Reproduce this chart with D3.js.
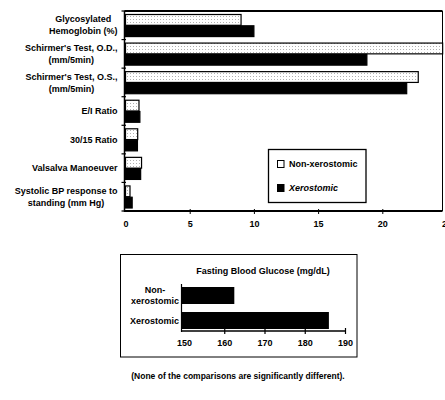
<!DOCTYPE html>
<html><head><meta charset="utf-8">
<script src="https://cdn.jsdelivr.net/npm/d3@7"></script>
<style>
html,body{margin:0;padding:0;background:#fff;}
svg{display:block;font-family:"Liberation Sans",Arial,Helvetica,sans-serif;}
</style></head>
<body>
<svg id="c" width="445" height="400"></svg>
<script>
// ---- data ----
const categories = [
  ["Glycosylated","Hemoglobin (%)"],
  ["Schirmer's Test, O.D.,","(mm/5min)"],
  ["Schirmer's Test, O.S.,","(mm/5min)"],
  ["E/I Ratio"],
  ["30/15 Ratio"],
  ["Valsalva Manoeuver"],
  ["Systolic BP response to","standing (mm Hg)"]
];
const nonXerostomic = [9.0, 24.7, 22.8, 1.05, 0.95, 1.25, 0.35];
const xerostomic    = [10.0, 18.8, 21.9, 1.12, 0.93, 1.18, 0.52];
const xTicks = [0, 5, 10, 15, 20, 25];
const seriesNames = ["Non-xerostomic", "Xerostomic"];

const glucoseGroups = [["Non-","xerostomic"], ["Xerostomic"]];
const glucoseValues = [162.5, 186.0];
const glucoseTicks = [150, 160, 170, 180, 190];
const glucoseTitle = "Fasting Blood Glucose (mg/dL)";
const footnote = "(None of the comparisons are significantly different).";

// ---- drawing ----
const svg = d3.select("#c");
const defs = svg.append("defs");
const pat = defs.append("pattern").attr("id","stip").attr("patternUnits","userSpaceOnUse")
  .attr("width",3).attr("height",3);
pat.append("rect").attr("width",3).attr("height",3).attr("fill","#fff");
pat.append("rect").attr("x",1).attr("y",1).attr("width",1).attr("height",1).attr("fill","#b0b0b0");

const x = d3.scaleLinear().domain([0,25]).range([125.5,446.5]);
const idx = d3.range(categories.length);
const y = d3.scaleBand().domain(idx).range([11,211]).padding(0);
const sub = d3.scaleBand().domain([0,1]).range([3, y.bandwidth()-3]).padding(0);

const main = svg.append("g");
// frame top/right
main.append("line").attr("x1",124.5).attr("x2",442.5).attr("y1",11).attr("y2",11)
  .attr("stroke","#000").attr("stroke-width",2);
main.append("line").attr("x1",442.5).attr("x2",442.5).attr("y1",11).attr("y2",211)
  .attr("stroke","#000").attr("stroke-width",1);

// bars
const fills = ["url(#stip)", "#000"];
[nonXerostomic, xerostomic].forEach((vals, s) => {
  main.append("g").selectAll("rect").data(vals).join("rect")
    .attr("x", x(0))
    .attr("y", (d,i) => y(i) + sub(s) + 0.5)
    .attr("width", d => x(d) - x(0))
    .attr("height", sub.bandwidth() - 0.5)
    .attr("fill", fills[s])
    .attr("stroke", "#000").attr("stroke-width", 1.2);
});

// x axis
const xAxis = d3.axisBottom(x).tickValues(xTicks).tickSize(0).tickPadding(10)
  .tickFormat(d3.format("d"));
const gx = main.append("g").attr("transform","translate(0,211)").call(xAxis);
gx.select(".domain").remove();
gx.append("line").attr("x1",124.5).attr("x2",442.5).attr("stroke","#000").attr("stroke-width",2);
gx.selectAll(".tick").filter(d => d>0).append("line").attr("y1",-2).attr("y2",3).attr("stroke","#000");
gx.selectAll(".tick text").attr("font-size",9).attr("font-weight","bold").attr("fill","#000");

// y axis line and ticks at band boundaries
main.append("line").attr("x1",124.5).attr("x2",124.5).attr("y1",11).attr("y2",212)
  .attr("stroke","#000").attr("stroke-width",1.5);
main.append("g").selectAll("line").data(idx.concat([categories.length])).join("line")
  .attr("x1",121.5).attr("x2",126)
  .attr("y1", i => i < categories.length ? y(i) : y.range()[1])
  .attr("y2", i => i < categories.length ? y(i) : y.range()[1])
  .attr("stroke","#000").attr("stroke-width",1.2);

// category labels
const labelRight = 117.5, lineH = 12;
categories.forEach((lines, i) => {
  const cy = y(i) + y.bandwidth()/2;
  const g = main.append("g");
  const texts = lines.map((t, k) => g.append("text")
    .attr("y", cy + (k - (lines.length-1)/2)*lineH)
    .attr("dy","0.35em").attr("font-size",9).attr("font-weight","bold").text(t));
  if (lines.length === 1) {
    texts[0].attr("x", labelRight).attr("text-anchor","end");
  } else {
    const w = d3.max(texts, t => t.node().getComputedTextLength());
    texts.forEach(t => t.attr("x", labelRight - w/2).attr("text-anchor","middle"));
  }
});

// legend
const lg = main.append("g");
lg.append("rect").attr("x",268.5).attr("y",149.5).attr("width",97.5).attr("height",53)
  .attr("fill","#fff").attr("stroke","#000").attr("stroke-width",1.3);
seriesNames.forEach((n, s) => {
  const yy = 164 + s*24;
  lg.append("rect").attr("x",277.5).attr("y",yy-3.5).attr("width",6.5).attr("height",7)
    .attr("fill", s===0 ? "#fff" : "#000").attr("stroke","#000").attr("stroke-width",1);
  lg.append("text").attr("x",289).attr("y",yy).attr("dy","0.35em")
    .attr("font-size",9).attr("font-weight","bold")
    .attr("font-style", s===1 ? "italic" : "normal").text(n);
});

// ---- inset: fasting blood glucose ----
const ins = svg.append("g");
ins.append("rect").attr("x",120.5).attr("y",254.5).attr("width",236.5).attr("height",102.5)
  .attr("fill","none").attr("stroke","#000").attr("stroke-width",1);
ins.append("text").attr("x",263).attr("y",271).attr("dy","0.35em").attr("text-anchor","middle")
  .attr("font-size",9).attr("font-weight","bold").text(glucoseTitle);

const gxs = d3.scaleLinear().domain([150,190]).range([184,345]);
const gys = d3.scaleBand().domain(d3.range(glucoseValues.length)).range([283,333])
  .paddingInner(0.32).paddingOuter(0.16);

ins.append("g").selectAll("rect").data(glucoseValues).join("rect")
  .attr("x", gxs(150) - 2).attr("y", (d,i) => gys(i))
  .attr("width", d => gxs(d) - gxs(150) + 2).attr("height", gys.bandwidth()).attr("fill","#000");

const gAx = d3.axisBottom(gxs).tickValues(glucoseTicks).tickSize(0).tickPadding(9)
  .tickFormat(d3.format("d"));
const ga = ins.append("g").attr("transform","translate(0,331)").call(gAx);
ga.select(".domain").remove();
ga.append("line").attr("x1",181.5).attr("x2",345.5).attr("stroke","#000").attr("stroke-width",1.3);
ga.selectAll(".tick").filter(d => d>150).append("line").attr("y1",-3).attr("y2",3).attr("stroke","#000").attr("stroke-width",1.2);
ga.selectAll(".tick text").attr("font-size",9).attr("font-weight","bold").attr("fill","#000");
ins.append("line").attr("x1",181.5).attr("x2",181.5).attr("y1",284).attr("y2",332)
  .attr("stroke","#000").attr("stroke-width",1.2);

glucoseGroups.forEach((lines, i) => {
  const cy = gys(i) + gys.bandwidth()/2;
  const g = ins.append("g");
  const texts = lines.map((t,k) => g.append("text")
    .attr("y", cy + (k - (lines.length-1)/2)*11.5)
    .attr("dy","0.35em").attr("font-size",9).attr("font-weight","bold").text(t));
  const w = d3.max(texts, t => t.node().getComputedTextLength());
  texts.forEach(t => t.attr("x", 179 - w/2).attr("text-anchor","middle"));
});

// footnote
svg.append("text").attr("x",238).attr("y",376).attr("dy","0.35em").attr("text-anchor","middle")
  .attr("font-size",8.5).attr("font-weight","bold").text(footnote);
</script>
</body></html>
